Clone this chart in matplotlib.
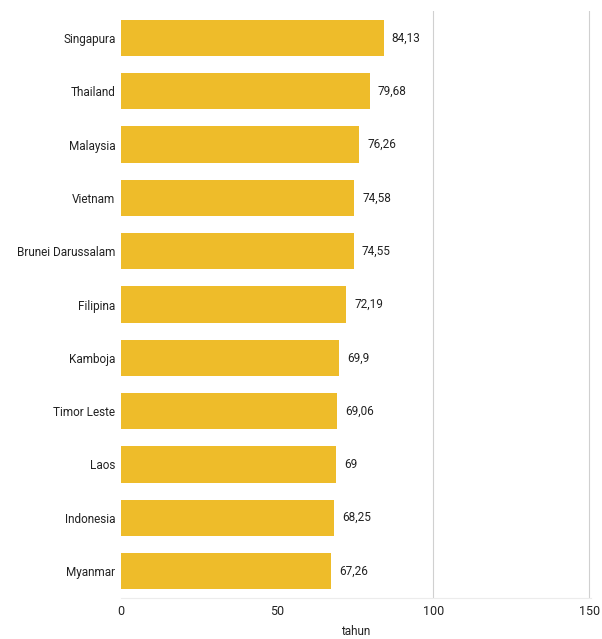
import matplotlib.pyplot as plt

countries = ['Singapura', 'Thailand', 'Malaysia', 'Vietnam', 'Brunei Darussalam', 'Filipina',
             'Kamboja', 'Timor Leste', 'Laos', 'Indonesia', 'Myanmar']
values = [84.13, 79.68, 76.26, 74.58, 74.55, 72.19, 69.9, 69.06, 69, 68.25, 67.26]
labels = ['84,13', '79,68', '76,26', '74,58', '74,55', '72,19', '69,9', '69,06', '69', '68,25', '67,26']
xticks = [0, 50, 100, 150]
gridlines = [100, 150]

plt.rcParams['font.family'] = ['Roboto', 'DejaVu Sans']

fig = plt.figure(figsize=(6.02, 6.39), dpi=100)
ax = fig.add_axes([0.201, 0.0646, 0.7807, 0.9177])

ypos = list(range(len(countries)))
ax.barh(ypos, values, height=0.68, color='#EEBC2A', zorder=3)
for y, v, t in zip(ypos, values, labels):
    ax.text(v + 2.6, y, t, va='center', ha='left', fontsize=8.5, color='#222222')

for g in gridlines:
    ax.axvline(g, color='#d0d0d0', linewidth=0.8, zorder=0)

ax.set_ylim(len(countries) - 0.5, -0.5)
ax.set_xlim(0, 150.5)
ax.set_yticks(ypos)
ax.set_yticklabels(countries, fontsize=8.5, color='#222222')
ax.set_xticks(xticks)
ax.set_xticklabels([str(t) for t in xticks], fontsize=9, color='#222222')
ax.tick_params(length=0, pad=4)
ax.tick_params(axis='x', pad=5)
for s in ['top', 'right', 'left']:
    ax.spines[s].set_visible(False)
ax.spines['bottom'].set_color('#ececec')
ax.set_xlabel('tahun', fontsize=8.5, color='#222222', labelpad=5)

fig.savefig('out.png', dpi=100)
